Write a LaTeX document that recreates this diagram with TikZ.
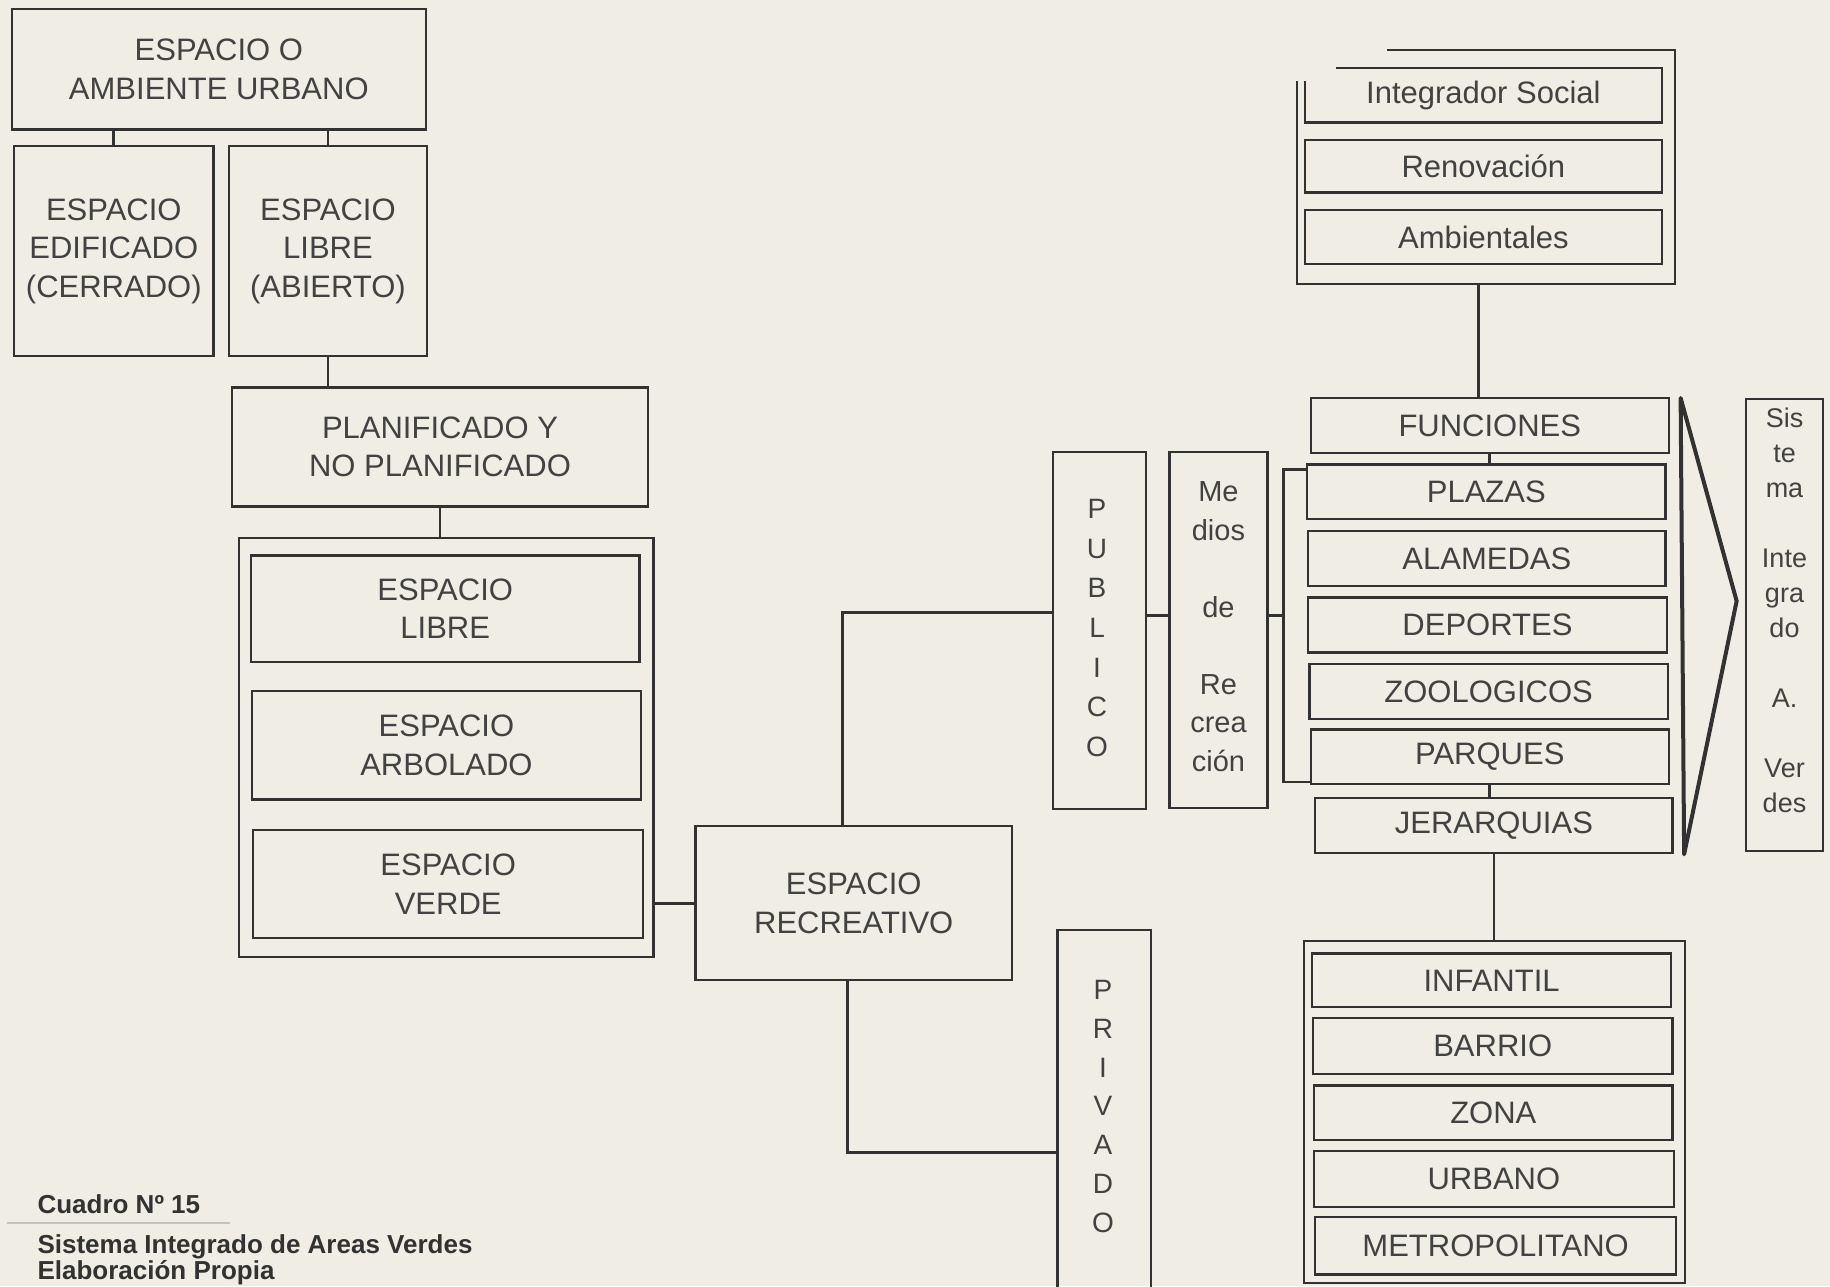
\documentclass[tikz,border=0pt]{standalone}
\usepackage{fontspec}
\setmainfont{Liberation Sans}
\usetikzlibrary{fit,calc}
\definecolor{paper}{RGB}{239,237,228}
\definecolor{ink}{RGB}{50,50,50}
\definecolor{txt}{RGB}{66,66,66}
\definecolor{faint}{RGB}{196,194,186}
\begin{document}
\begin{tikzpicture}[x=1.1671pt, y=-1.1671pt,
  bx/.style={draw=ink, line width=2.2pt, inner sep=0pt},
  lbl/.style={inner sep=0pt, text=txt, align=center, font=\fontsize{31}{38.5}\selectfont},
  link/.style={draw=ink, line width=2.8pt},
  capt/.style={anchor=base west, inner sep=0pt, text=ink,
               font=\bfseries\fontsize{26}{30}\selectfont}]
\fill[paper] (0,0) rectangle (1568,1102);
\useasboundingbox (0,0) rectangle (1568,1102);

% box with centred label: name, x1, y1, x2, y2, text
\newcommand\labbox[6]{%
  \node[bx, fit={(#2,#3) (#4,#5)}] (#1) {};
  \node[lbl] (#1t) at (#1.center) {#6};}

% ---------- left column ----------
\labbox{A}{10}{8}{365}{111}{ESPACIO O\\AMBIENTE URBANO}
\labbox{B}{12}{125}{183}{305}{ESPACIO\\EDIFICADO\\(CERRADO)}
\labbox{C}{196}{125}{366}{305}{ESPACIO\\LIBRE\\(ABIERTO)}
\labbox{D}{199}{332}{555}{434}{PLANIFICADO Y\\NO PLANIFICADO}
\node[bx, fit={(205,461) (560,820)}] (E) {};
\labbox{EA}{215}{476}{548}{567}{ESPACIO\\LIBRE}
\labbox{EB}{216}{592}{549}{685}{ESPACIO\\ARBOLADO}
\labbox{EC}{217}{711}{551}{804}{ESPACIO\\VERDE}
\labbox{F}{596}{708}{867}{840}{ESPACIO\\RECREATIVO}

% ---------- middle ----------
\node[bx, fit={(902,387) (982,693)}] (G) {};
\node[lbl, font=\fontsize{28}{39.7}\selectfont] (Gt) at (940,538) {P\\U\\B\\L\\I\\C\\O};
\node[bx, fit={(906,797) (986,1112)}] (H) {};
\node[lbl, font=\fontsize{28}{38.9}\selectfont] (Ht) at (945,948) {P\\R\\I\\V\\A\\D\\O};
\node[bx, fit={(1002,387) (1086,692)}] (I) {};
\node[lbl, font=\fontsize{29}{38.5}\selectfont] (It) at (1044,537)
  {Me\\dios\\[38.5pt]de\\[38.5pt]Re\\crea\\ción};

% ---------- right top container ----------
\node[inner sep=0pt, fit={(1111,43) (1435,243)}] (T) {};
\draw[ink, line width=2.2pt] (1188,43) -- (1435,43) -- (1435,243) -- (1111,243) -- (1111,69);
\node[inner sep=0pt, fit={(1118,58) (1424,105)}] (IS) {};
\draw[ink, line width=2.2pt] (1145,58) -- (1424,58) -- (1424,105) -- (1118,105) -- (1118,69);
\node[lbl] (ISt) at (IS.center) {Integrador Social};
\labbox{RE}{1118}{120}{1424}{165}{Renovación}
\labbox{AM}{1118}{180}{1424}{226}{Ambientales}

% ---------- right column ----------
\labbox{FUN}{1123}{341}{1430}{388}{FUNCIONES}
\labbox{PL}{1120}{398}{1427}{445}{PLAZAS}
\labbox{AL}{1121}{455}{1427}{502}{ALAMEDAS}
\labbox{DE}{1121}{512}{1428}{559}{DEPORTES}
\labbox{ZO}{1122}{569}{1429}{616}{ZOOLOGICOS}
\labbox{PAR}{1123}{625}{1430}{672}{PARQUES}
\labbox{JER}{1127}{684}{1433}{731}{JERARQUIAS}

% ---------- bottom container ----------
\node[bx, fit={(1117,806) (1444,1099)}] (Bc) {};
\labbox{IN}{1124}{817}{1432}{863}{INFANTIL}
\labbox{BA}{1125}{872}{1433}{920}{BARRIO}
\labbox{ZN}{1126}{930}{1433}{977}{ZONA}
\labbox{UR}{1126}{986}{1434}{1034}{URBANO}
\labbox{ME}{1127}{1043}{1436}{1092}{METROPOLITANO}

% ---------- sistema ----------
\draw[ink, line width=4pt, line join=round] (1440,341) -- (1488,515) -- (1443,732) -- cycle;
\node[bx, fit={(1496,342) (1562,729)}] (S) {};
\node[lbl, font=\fontsize{27}{35}\selectfont] (St) at (1529,523)
  {Sis\\te\\ma\\[35pt]Inte\\gra\\do\\[35pt]A.\\[35pt]Ver\\des};

% ---------- connectors ----------
\draw[link] (B.north) -- (B.north |- A.south);
\draw[link] (C.north) -- (C.north |- A.south);
\draw[link] (C.south) -- (C.south |- D.north);
\draw[link] (D.south) -- (D.south |- E.north);
\draw[link] (F.west) -- (F.west -| E.east);
\coordinate (fn) at ($(F.north west)!0.465!(F.north east)$);
\coordinate (gw) at ($(G.north west)!0.45!(G.south west)$);
\draw[link] (fn) |- (gw);
\coordinate (fs) at ($(F.south west)!0.48!(F.south east)$);
\coordinate (hw) at ($(H.north west)!0.603!(H.south west)$);
\draw[link] (fs) |- (hw);
\coordinate (gi) at ($(G.north east)!0.46!(G.south east)$);
\draw[link] (gi) -- (gi -| I.west);
\coordinate (brT) at (1100,402);
\coordinate (brB) at (1100,670);
\coordinate (ib) at ($(I.north east)!0.46!(I.south east)$);
\draw[link] (ib) -- (ib -| brT);
\draw[link] (PL.west |- brT) -- (brT) -- (brB) -- (PAR.west |- brB);
\coordinate (tb) at ($(T.south west)!0.48!(T.south east)$);
\draw[link] (tb) -- (tb |- FUN.north);
\draw[link] (FUN.south) -- (FUN.south |- PL.north);
\draw[link] (PAR.south) -- (PAR.south |- JER.north);
\draw[link] (JER.south) -- (JER.south |- Bc.north);

% ---------- caption ----------
\node[capt] (cap1) at (32,1040) {Cuadro Nº 15};
\draw[faint, line width=1.5pt] (6,1048) -- (197,1048);
\node[capt] (cap2) at (32,1074) {Sistema Integrado de Areas Verdes};
\node[capt] (cap3) at (32,1096) {Elaboración Propia};
\end{tikzpicture}
\end{document}
